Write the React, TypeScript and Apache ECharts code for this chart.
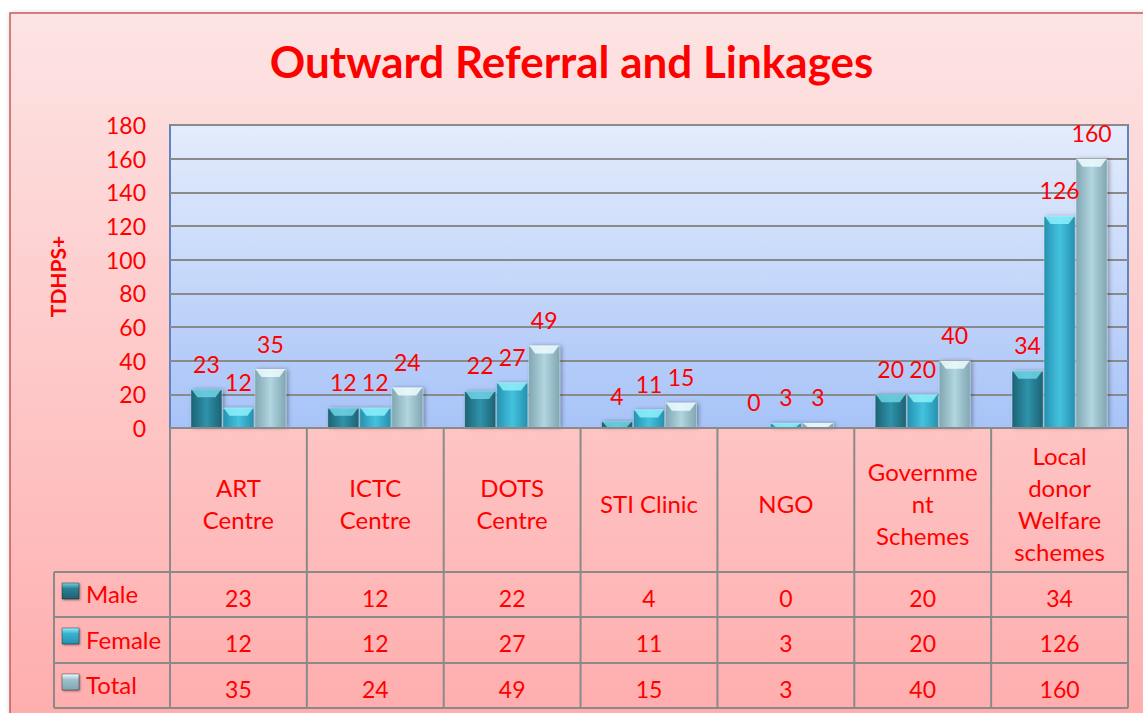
import React, { useEffect, useRef } from "react";
import * as echarts from "echarts";

const categories = [
  "ART\nCentre",
  "ICTC\nCentre",
  "DOTS\nCentre",
  "STI Clinic",
  "NGO",
  "Governme\nnt\nSchemes",
  "Local\ndonor\nWelfare\nschemes",
];
const seriesNames = ["Male", "Female", "Total"];
const male = [23, 12, 22, 4, 0, 20, 34];
const female = [12, 12, 27, 11, 3, 20, 126];
const total = [35, 24, 49, 15, 3, 40, 160];
const yTicks = { min: 0, max: 180, interval: 20 };
const titleText = "Outward Referral and Linkages";
const yAxisName = "TDHPS+";

const W = 1143;
const H = 713;
const FONT = 'Lato, "Open Sans", sans-serif';
const RED = "#ff0000";
const GRID = { left: 170, right: 15, top: 125, bottom: 285 };
const ROW_H = [572, 617, 663, 708];
const TABLE_LEFT = 54;
const LINE = "#8a8a8a";
const BAR_W = 32;

const barColors = [
  { edge: "#1c6274", mid: "#2f93aa", key: "#2c7f93", top: "#6fd3e4" },
  { edge: "#2591b0", mid: "#44c2e0", key: "#3ab2d2", top: "#8ff0fb" },
  { edge: "#7fa6b2", mid: "#b2d6e0", key: "#9fc2cc", top: "#effcff" },
];

function hGrad(c: { edge: string; mid: string }) {
  return new echarts.graphic.LinearGradient(0, 0, 1, 0, [
    { offset: 0, color: c.edge },
    { offset: 0.5, color: c.mid },
    { offset: 1, color: c.edge },
  ]);
}

export default function App() {
  const ref = useRef<HTMLDivElement>(null);
  useEffect(() => {
    if (!ref.current) return;
    const chart = echarts.init(ref.current, undefined, { renderer: "svg" });
    const plotRight = W - GRID.right;
    const plotBottom = H - GRID.bottom;
    const colW = (plotRight - GRID.left) / categories.length;
    const data = [male, female, total];

    const graphics: any[] = [];
    graphics.push({
      type: "rect",
      z: -10,
      silent: true,
      shape: { x: 10, y: 13, width: 1200, height: 800 },
      style: {
        fill: new echarts.graphic.LinearGradient(0, 0, 0, 1, [
          { offset: 0, color: "#fde4e4" },
          { offset: 1, color: "#ffa6a6" },
        ]),
        stroke: "#c85a5a",
        lineWidth: 1.5,
        shadowBlur: 6,
        shadowColor: "rgba(0,0,0,0.3)",
        shadowOffsetX: 2,
        shadowOffsetY: 2,
      },
    });
    ROW_H.forEach((y) => {
      graphics.push({
        type: "line",
        z: 10,
        shape: { x1: TABLE_LEFT, y1: y, x2: plotRight, y2: y },
        style: { stroke: LINE, lineWidth: 2 },
      });
    });
    graphics.push({
      type: "line",
      z: 10,
      shape: { x1: GRID.left, y1: plotBottom, x2: plotRight, y2: plotBottom },
      style: { stroke: LINE, lineWidth: 2 },
    });
    for (let i = 0; i <= categories.length; i++) {
      const x = GRID.left + i * colW;
      graphics.push({
        type: "line",
        z: 10,
        shape: { x1: x, y1: plotBottom, x2: x, y2: ROW_H[3] },
        style: { stroke: LINE, lineWidth: 2 },
      });
    }
    graphics.push({
      type: "line",
      z: 10,
      shape: { x1: TABLE_LEFT, y1: ROW_H[0], x2: TABLE_LEFT, y2: ROW_H[3] },
      style: { stroke: LINE, lineWidth: 2 },
    });
    seriesNames.forEach((name, r) => {
      const yc = (ROW_H[r] + ROW_H[r + 1]) / 2 + 3;
      const c = barColors[r];
      graphics.push({
        type: "rect",
        z: 10,
        shape: { x: 62, y: ROW_H[r] + 11, width: 17, height: 16 },
        style: {
          fill: new echarts.graphic.LinearGradient(0, 0, 0, 1, [
            { offset: 0, color: c.top },
            { offset: 0.35, color: c.key },
            { offset: 1, color: c.edge },
          ]),
          stroke: "rgba(0,0,0,0.35)",
          lineWidth: 1,
          shadowBlur: 2,
          shadowColor: "rgba(0,0,0,0.4)",
          shadowOffsetX: 1,
          shadowOffsetY: 1,
        },
      });
      graphics.push({
        type: "text",
        z: 10,
        style: {
          text: name,
          x: 86,
          y: yc - 4,
          fill: RED,
          font: `24px ${FONT}`,
          align: "left",
          verticalAlign: "middle",
        },
      });
      data[r].forEach((v, i) => {
        graphics.push({
          type: "text",
          z: 10,
          style: {
            text: String(v),
            x: GRID.left + (i + 0.5) * colW,
            y: yc,
            fill: RED,
            font: `23px ${FONT}`,
            align: "center",
            verticalAlign: "middle",
          },
        });
      });
    });

    const barSeries = seriesNames.map((name, s) => ({
      name,
      type: "bar",
      data: data[s],
      barWidth: BAR_W,
      barGap: "0%",
      itemStyle: {
        color: hGrad(barColors[s]),
        borderColor: "rgba(255,255,255,0.3)",
        borderWidth: 1,
        shadowBlur: 4,
        shadowColor: "rgba(0,0,0,0.35)",
        shadowOffsetX: 2,
        shadowOffsetY: 0,
      },
      label: {
        show: true,
        position: "top",
        distance: 14,
        color: RED,
        fontSize: 23,
        fontFamily: FONT,
      },
    }));

    const capSeries = seriesNames.map((name, s) => ({
      name: name + "-cap",
      type: "custom",
      z: 3,
      silent: true,
      data: data[s].map((v, i) => [i, v]),
      encode: { x: 0, y: 1 },
      renderItem: (_p: any, api: any) => {
        const i = api.value(0);
        const v = api.value(1);
        const top = api.coord([i, v]);
        const base = api.coord([i, 0]);
        const h = Math.min(8, base[1] - top[1]);
        if (h <= 1) return null;
        const x = top[0] + (s - 1) * BAR_W - BAR_W / 2;
        const y = top[1];
        return {
          type: "polygon",
          shape: {
            points: [
              [x + 1, y],
              [x + BAR_W - 1, y],
              [x + BAR_W - 7, y + h],
              [x + 7, y + h],
            ],
          },
          style: { fill: barColors[s].top, opacity: 0.85 },
        };
      },
    }));

    const option: any = {
      animation: false,
      backgroundColor: "#ffffff",
      title: {
        text: titleText,
        left: "center",
        top: 34,
        textStyle: { color: RED, fontSize: 44, fontWeight: "bold", fontFamily: FONT },
      },
      grid: {
        ...GRID,
        show: true,
        backgroundColor: new echarts.graphic.LinearGradient(0, 0, 0, 1, [
          { offset: 0, color: "#e4ecfc" },
          { offset: 1, color: "#a7c3f8" },
        ]),
        borderColor: "#5f84c0",
        borderWidth: 2,
      },
      xAxis: {
        type: "category",
        data: categories,
        axisLine: { show: false },
        axisTick: { show: false },
        axisLabel: {
          interval: 0,
          color: RED,
          fontSize: 24,
          fontFamily: FONT,
          lineHeight: 32,
          margin: 75,
          verticalAlign: "middle",
          align: "center",
        },
      },
      yAxis: {
        type: "value",
        min: yTicks.min,
        max: yTicks.max,
        interval: yTicks.interval,
        name: yAxisName,
        nameLocation: "middle",
        nameGap: 102,
        nameRotate: 90,
        nameTextStyle: { color: RED, fontSize: 21, fontWeight: "bold", fontFamily: FONT },
        axisLine: { show: false },
        axisTick: { show: false },
        axisLabel: { color: RED, fontSize: 23, fontFamily: FONT, margin: 24 },
        splitLine: { lineStyle: { color: LINE, width: 2 } },
      },
      series: [...barSeries, ...capSeries],
      graphic: graphics,
    };
    chart.setOption(option);
    return () => chart.dispose();
  }, []);
  return (
    <div
      ref={ref}
      style={{ position: "fixed", left: 0, top: 0, width: W, height: H }}
    />
  );
}
